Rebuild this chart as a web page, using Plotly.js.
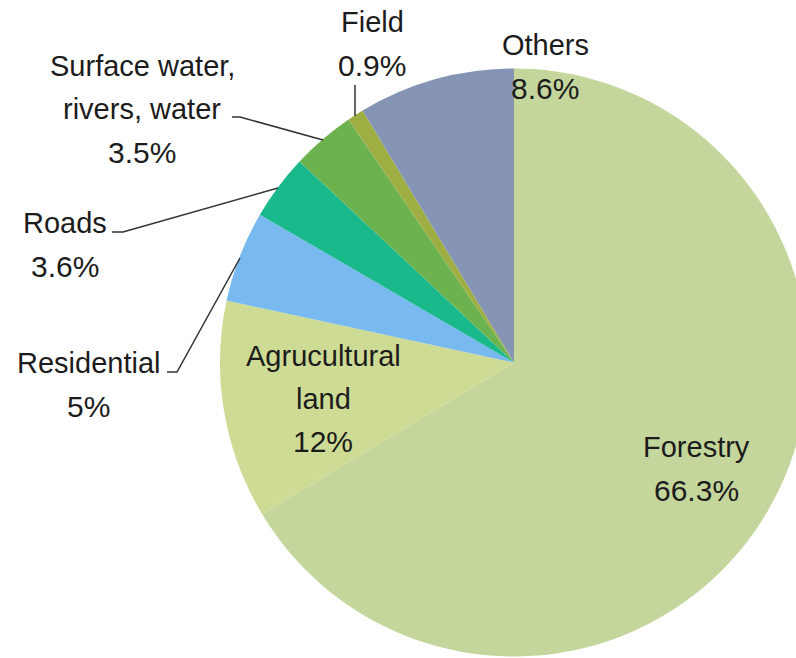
<!DOCTYPE html>
<html>
<head>
<meta charset="utf-8">
<script src="https://cdn.plot.ly/plotly-3.0.1.min.js"></script>
<style>
html, body { margin:0; padding:0; overflow:hidden; background:#fff; width:796px; height:658px; }
#chart { width:900px; height:658px; }
</style>
</head>
<body>
<div id="chart"></div>
<script>
// ---- data ----
const categories = ['Forestry', 'Agrucultural land', 'Residential', 'Roads', 'Surface water, rivers, water', 'Field', 'Others'];
const shares = [66.3, 12, 5, 3.6, 3.5, 0.9, 8.6];
const nameLines = [['Forestry'], ['Agrucultural', 'land'], ['Residential'], ['Roads'], ['Surface water,', 'rivers, water'], ['Field'], ['Others']];
const sliceColors = ['#c4d69c', '#cedb94', '#78b9ef', '#19b98b', '#6cb350', '#9fae42', '#8594b5'];

// ---- layout helpers (pixel positions of label lines, centers) ----
const W = 900, H = 658;
const px = x => x / W;
const py = y => 1 - y / H;
// each: [x center, y of first line], line step
const labelPos = [
  [696, 446],
  [323, 355],
  [88, 362],
  [65, 222],
  [142, 65],
  [372, 21],
  [545, 44]
];
const lineStep = 43;

const annotations = [];
categories.forEach((c, i) => {
  const [x, y0] = labelPos[i];
  const lines = nameLines[i];
  lines.forEach((t, k) => {
    annotations.push({
      xref: 'paper', yref: 'paper', x: px(x), y: py(y0 + k * lineStep + 1),
      text: t, showarrow: false, xanchor: 'center', yanchor: 'middle',
      font: { family: 'Liberation Sans, Arial, sans-serif', size: 29, color: '#1c1c1c' }
    });
  });
  annotations.push({
    xref: 'paper', yref: 'paper', x: px(x), y: py(y0 + lines.length * lineStep + 1),
    text: shares[i] + '%', showarrow: false, xanchor: 'center', yanchor: 'middle',
    font: { family: 'Liberation Sans Narrow, Liberation Sans, Arial, sans-serif', size: 30, color: '#1c1c1c' }
  });
});

const leaders = [
  [[355, 85], [355, 116]],
  [[232, 117], [240, 117], [323, 140]],
  [[112, 232], [123, 232], [278, 188]],
  [[167, 372], [177, 372], [240, 258]]
];
const shapes = leaders.map(pts => ({
  type: 'path', xref: 'paper', yref: 'paper',
  path: pts.map((p, k) => (k ? 'L ' : 'M ') + px(p[0]) + ' ' + py(p[1])).join(' '),
  line: { color: '#333333', width: 1.5 }
}));

const trace = {
  type: 'pie',
  labels: categories,
  values: shares,
  sort: false,
  direction: 'clockwise',
  rotation: 0,
  textinfo: 'none',
  hoverinfo: 'label+percent',
  marker: { colors: sliceColors, line: { width: 0 } },
  domain: { x: [px(220), px(808)], y: [py(656.5), py(68.5)] }
};

Plotly.newPlot('chart', [trace], {
  width: W, height: H,
  margin: { l: 0, r: 0, t: 0, b: 0 },
  showlegend: false,
  paper_bgcolor: '#ffffff',
  annotations: annotations,
  shapes: shapes
}, { displayModeBar: false, staticPlot: true });
</script>
</body>
</html>
